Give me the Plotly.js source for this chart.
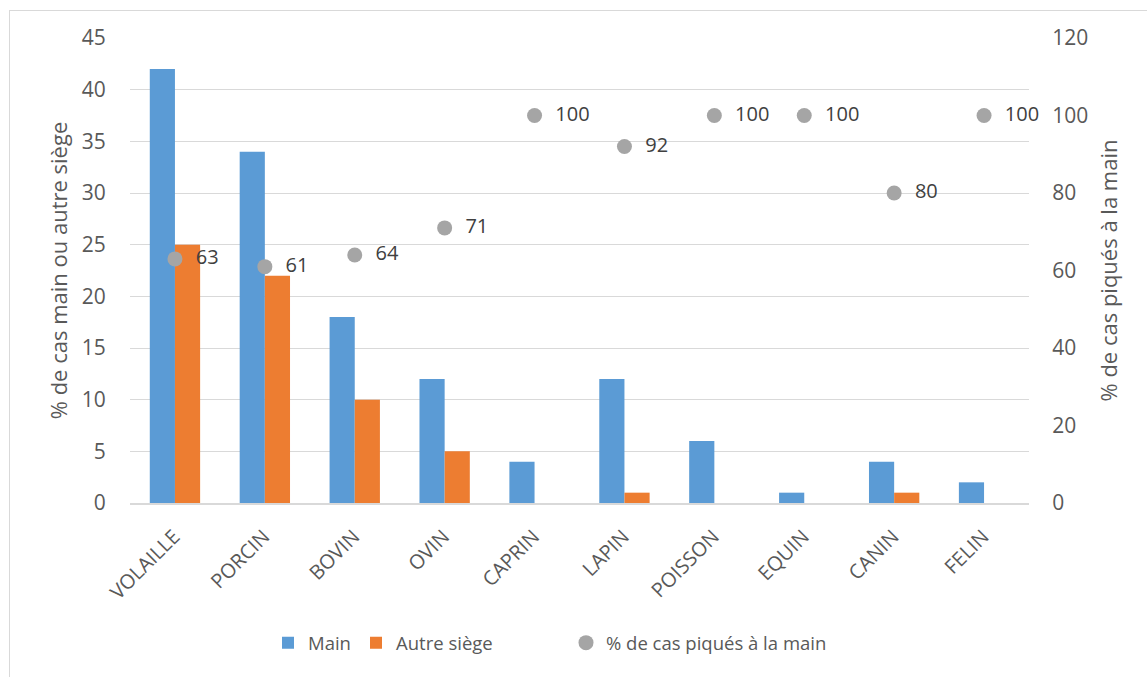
<!DOCTYPE html>
<html>
<head>
<meta charset="utf-8">
<script src="https://cdn.plot.ly/plotly-3.0.1.min.js"></script>
<style>
  html, body { margin: 0; padding: 0; background: #ffffff; }
  #wrap { position: relative; width: 1147px; height: 677px; }
  #frame { position: absolute; left: 9px; top: 10px; width: 1138px; height: 667px;
           border-left: 1px solid #d9d9d9; border-top: 1px solid #d9d9d9; box-sizing: border-box; pointer-events: none; }
  #chart { position: absolute; left: 0; top: 0; width: 1147px; height: 677px; }
</style>
</head>
<body>
<div id="wrap">
  <div id="chart"></div>
  <div id="frame"></div>
</div>
<script>
// Espèces animales
const categories = ['VOLAILLE', 'PORCIN', 'BOVIN', 'OVIN', 'CAPRIN', 'LAPIN', 'POISSON', 'EQUIN', 'CANIN', 'FELIN'];
// % de cas : piqûre à la main / autre siège
const mainValues = [42, 34, 18, 12, 4, 12, 6, 1, 4, 2];
const autreValues = [25, 22, 10, 5, 0, 1, 0, 0, 1, 0];
// % de cas piqués à la main (axe secondaire)
const pctMain = [63, 61, 64, 71, 100, 92, 100, 100, 80, 100];

const FONT = 'Open Sans, Noto Sans, sans-serif';
const TICK = '#595959';
const GRID = '#d9d9d9';
const W = 1147;

const traces = [
  {
    type: 'bar', name: 'Main', x: categories, y: mainValues, legend: 'legend',
    marker: { color: '#5B9BD5' }, hoverinfo: 'x+y'
  },
  {
    type: 'bar', name: 'Autre siège', x: categories, y: autreValues, legend: 'legend2',
    marker: { color: '#ED7D31' }, hoverinfo: 'x+y'
  },
  {
    type: 'scatter', mode: 'markers+text', name: '% de cas piqués à la main', legend: 'legend3',
    x: categories, y: pctMain, yaxis: 'y2',
    marker: { color: '#A5A5A5', size: 15 },
    text: pctMain.map(v => '  ' + v), textposition: 'middle right',
    textfont: { family: FONT, size: 20, color: '#404040' },
    cliponaxis: false
  }
];

// one legend box per entry, each placed along the bottom row
function legendAt(px) {
  return {
    orientation: 'h', xref: 'container', x: px / W, xanchor: 'left',
    yref: 'container', y: 0.05, yanchor: 'middle',
    font: { family: FONT, size: 18.5, color: TICK }, itemwidth: 30,
    bgcolor: 'rgba(0,0,0,0)'
  };
}

const layout = {
  width: 1147, height: 677,
  margin: { l: 130, r: 118, t: 38, b: 174, autoexpand: false },
  paper_bgcolor: '#ffffff', plot_bgcolor: '#ffffff',
  font: { family: FONT, size: 18, color: TICK },
  barmode: 'group', bargap: 0.44, bargroupgap: 0,
  showlegend: true,
  legend: legendAt(268),
  legend2: legendAt(356),
  legend3: legendAt(566),
  xaxis: {
    type: 'category', range: [-0.5, 9.5], tickangle: -45, showgrid: false, automargin: false,
    showline: true, linecolor: GRID, linewidth: 2,
    ticks: 'outside', ticklen: 12, tickcolor: 'rgba(0,0,0,0)', ticklabelshift: -1,
    tickfont: { family: FONT, size: 20, color: TICK }
  },
  yaxis: {
    range: [0, 45], dtick: 5, showgrid: true, gridcolor: GRID, gridwidth: 1,
    zeroline: false, showline: false, automargin: false,
    ticks: 'outside', ticklen: 19, tickcolor: 'rgba(0,0,0,0)',
    tickfont: { family: FONT, size: 21, color: TICK },
    title: { text: '% de cas main ou autre siège', font: { family: FONT, size: 22, color: TICK }, standoff: 8 }
  },
  yaxis2: {
    overlaying: 'y', side: 'right', range: [0, 120], dtick: 20,
    showgrid: false, zeroline: false, showline: false, automargin: false,
    ticks: 'outside', ticklen: 18, tickcolor: 'rgba(0,0,0,0)',
    tickfont: { family: FONT, size: 21, color: TICK },
    title: { text: '% de cas piqués à la main', font: { family: FONT, size: 22, color: TICK }, standoff: 14 }
  }
};

Plotly.newPlot('chart', traces, layout, { staticPlot: true, displayModeBar: false });
</script>
</body>
</html>
